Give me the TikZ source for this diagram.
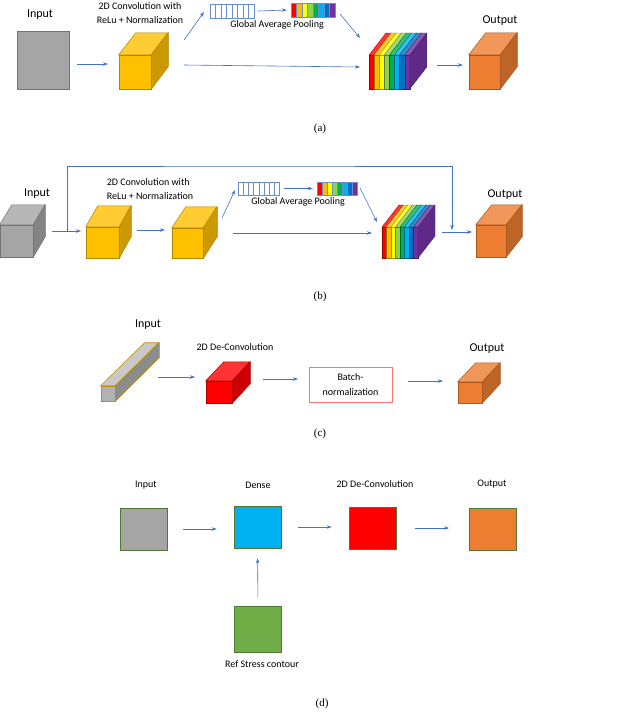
\documentclass[tikz,border=0pt]{standalone}
\usepackage{fontspec}
\setmainfont{Liberation Serif}
\newfontfamily\lab{Carlito}
\usetikzlibrary{arrows.meta}
\definecolor{cgray}{HTML}{A5A5A5}
\definecolor{cyel}{HTML}{FFC000}
\definecolor{corg}{HTML}{ED7D31}
\definecolor{cblue}{HTML}{4472C4}
\definecolor{ccyan}{HTML}{00B0F0}
\definecolor{cgreen}{HTML}{70AD47}
\definecolor{cdgreen}{HTML}{00B050}
\definecolor{clime}{HTML}{92D050}
\definecolor{cnavy}{HTML}{0070C0}
\definecolor{cpurp}{HTML}{7030A0}
\definecolor{cred}{HTML}{FF0000}
\definecolor{cyell}{HTML}{FFFF00}
\newcommand\cuboid[8]{%
  \node[draw=#8!70!black, fill=#8, minimum width=#4pt, minimum height=#5pt, inner sep=0pt, line width=.5pt] (#1) at (#2,#3) {};
  \filldraw[fill=#8!80!white, draw=#8!70!black, line width=.5pt] (#1.north west) -- ++(#6,-#7) -- ++(#4,0) -- (#1.north east) -- cycle;
  \filldraw[fill=#8!80!black, draw=#8!70!black, line width=.5pt] (#1.north east) -- ++(#6,-#7) -- ++(0,#5) -- (#1.south east) -- cycle;}
\newcommand\stack[7]{%
  \foreach \c [count=\i from 0] in {cred,cyel!90!orange,cyell,clime,cdgreen,ccyan,cnavy,cpurp}{
    \filldraw[fill=\c, draw=\c!60!black, line width=.3pt] (#2+\i*#4,#3) rectangle ++(#4,#5);
    \filldraw[fill=\c!80!white, draw=\c!60!black, line width=.3pt] (#2+\i*#4,#3) -- ++(#6,-#7) -- ++(#4,0) -- ++(-#6,#7) -- cycle;}
  \filldraw[fill=cpurp!85!black, draw=cpurp!60!black, line width=.3pt] (#2+8*#4,#3) -- ++(#6,-#7) -- ++(0,#5) -- ++(-#6,#7) -- cycle;
  \node[inner sep=0pt, minimum width={8*#4 pt}, minimum height=#5pt] (#1) at (#2+4*#4,#3+#5/2) {};}
\newcommand\pool[5]{%
  \foreach \i in {0,...,7}{\draw[cblue!80, line width=.4pt, fill=white] (#2+\i*#4,#3) rectangle ++(#4,#5);}
  \node[inner sep=0pt, minimum width={8*#4 pt}, minimum height=#5pt] (#1) at (#2+4*#4,#3+#5/2) {};}
\newcommand\cbar[5]{%
  \foreach \c [count=\i from 0] in {cred,cyel!90!orange,cyell,clime,cdgreen,ccyan,cnavy,cpurp}{\filldraw[fill=\c, draw=cblue!80, line width=.3pt] (#2+\i*#4,#3) rectangle ++(#4,#5);}
  \node[inner sep=0pt, minimum width={8*#4 pt}, minimum height=#5pt] (#1) at (#2+4*#4,#3+#5/2) {};}
\tikzset{arr/.style={-{Stealth[length=5pt,width=3.5pt]}, draw=cblue, line width=.6pt},
  lab/.style={font=\lab\fontsize{10}{12}\selectfont, inner sep=0pt, align=center},
  big/.style={font=\lab\fontsize{12}{14}\selectfont, inner sep=0pt},
  captxt/.style={font=\fontsize{11}{13}\selectfont, inner sep=0pt},
  sq/.style={draw=cgreen!70!black, line width=.7pt, minimum width=47pt, minimum height=42pt, inner sep=0pt}}
\begin{document}
\begin{tikzpicture}[x=1pt,y=-1pt]
\useasboundingbox (0,0) rectangle (640,713);
% ---------- (a)
\node[draw=cgray!70!black, fill=cgray, minimum width=52pt, minimum height=58pt, inner sep=0pt] (ain) at (43,60) {};
\node[big] (ainl) at (40,15) {Input};
\cuboid{ac}{135}{72}{32}{34}{17}{22}{cyel}
\node[lab] (acl) at (140,13) {2D Convolution with\\[2pt]ReLu + Normalization};
\pool{ap}{210}{4}{5.5}{14}
\cbar{ab}{291}{3}{5.5}{14}
\node[lab] (apl) at (277,25) {Global Average Pooling};
\stack{as}{369}{55}{5.1}{34}{17}{22}
\cuboid{ao}{484.5}{72}{31}{34}{17}{22}{corg}
\node[big] (aol) at (500,21) {Output};
\node[captxt] (acap) at (320,129) {(a)};
\coordinate (a1) at (77,64); \coordinate (a2) at (108,64);
\draw[arr] (a1) -- (a2);
\coordinate (a3) at (184,40); \coordinate (a4) at (204,12);
\draw[arr] (a3) -- (a4);
\draw[arr] (ap.east) ++(4,0) -- ([xshift=-4pt]ab.west);
\coordinate (a5) at (340,14); \coordinate (a6) at (360,38);
\draw[arr] (a5) -- (a6);
\coordinate (a7) at (184,65); \coordinate (a8) at (360,67);
\draw[arr] (a7) -- (a8);
\coordinate (a9) at (437,65); \coordinate (a10) at (463,65);
\draw[arr] (a9) -- (a10);
% ---------- (b)
\cuboid{bin}{16.5}{241}{33}{32}{12}{20}{cgray}
\node[big] (binl) at (37,194) {Input};
\cuboid{bc1}{102.5}{242.5}{33}{31}{12}{21}{cyel}
\node[lab, align=left] (bcl) at (150,189) {2D Convolution with\\[2pt]ReLu + Normalization};
\cuboid{bc2}{187.5}{243}{31}{30}{14}{21}{cyel}
\pool{bp}{238}{182}{5.2}{13}
\cbar{bb}{317}{182}{5}{13}
\node[lab] (bpl) at (298,202) {Global Average Pooling};
\stack{bs}{382}{227}{4.5}{31}{17}{22}
\cuboid{bo}{491}{241}{30}{32}{16}{20}{corg}
\node[big] (bol) at (505,195) {Output};
\node[captxt] (bcap) at (320,297) {(b)};
\coordinate (b1) at (52,231); \coordinate (b2) at (81,231);
\draw[arr] (b1) -- (b2);
\coordinate (bsk) at (67,231); \coordinate (bsk2) at (452,230);
\draw[arr] (bsk) |- (259.5,166) -| (bsk2);
\coordinate (b3) at (137,230); \coordinate (b4) at (165,230);
\draw[arr] (b3) -- (b4);
\coordinate (b5) at (222,218); \coordinate (b6) at (235,190);
\draw[arr] (b5) -- (b6);
\draw[arr] (bp.east) ++(4,0) -- ([xshift=-4pt]bb.west);
\coordinate (b7) at (360,188); \coordinate (b8) at (377,222);
\draw[arr] (b7) -- (b8);
\coordinate (b9) at (233,233); \coordinate (b10) at (372,233);
\draw[arr] (b9) -- (b10);
\coordinate (b11) at (442,232); \coordinate (b12) at (472,232);
\draw[arr] (b11) -- (b12);
% ---------- (c)
\node[draw=cyel!75!black, fill=cgray!85!white, minimum width=14pt, minimum height=15pt, inner sep=0pt, line width=.6pt] (cin) at (108,393.5) {};
\filldraw[fill=cgray!60!white, draw=cyel!75!black, line width=.6pt] (cin.north west) -- ++(44,-43) -- ++(14,0) -- (cin.north east) -- cycle;
\filldraw[fill=cgray!85!black, draw=cyel!75!black, line width=.6pt] (cin.north east) -- ++(44,-43) -- ++(0,15) -- (cin.south east) -- cycle;
\node[big] (cinl) at (148,325) {Input};
\cuboid{cr}{219}{392}{26}{22}{18}{19}{cred}
\node[lab] (crl) at (235,347) {2D De-Convolution};
\node[lab, draw=cred!55, line width=.6pt, minimum width=83pt, minimum height=35pt] (cb) at (350.5,384.5) {Batch-\\[3pt]normalization};
\cuboid{co}{470}{392.5}{24}{21}{18}{19}{corg}
\node[big] (col) at (487,349) {Output};
\node[captxt] (ccap) at (320,434) {(c)};
\coordinate (c1) at (158,377); \coordinate (c2) at (195,377);
\draw[arr] (c1) -- (c2);
\coordinate (c3) at (263,379); \coordinate (c3b) at (298,379);
\draw[arr] (c3) -- (c3b);
\coordinate (c4a) at (408,381); \coordinate (c4) at (443,381);
\draw[arr] (c4a) -- (c4);
% ---------- (d)
\node[sq, fill=cgray] (din) at (143.5,529) {};
\node[sq, fill=ccyan] (dd) at (257.5,527) {};
\node[sq, fill=cred] (dr) at (372.5,528) {};
\node[sq, fill=corg] (do) at (493,529) {};
\node[sq, fill=cgreen, minimum height=46pt] (dg) at (258,629) {};
\node[lab] (dinl) at (146,485) {Input};
\node[lab] (ddl) at (258,485) {Dense};
\node[lab] (drl) at (375,484) {2D De-Convolution};
\node[lab] (dol) at (492,484) {Output};
\node[lab] (dgl) at (262,664) {Ref Stress contour};
\node[captxt] (dcap) at (322,704) {(d)};
\draw[arr, shorten <=16pt, shorten >=17pt] (din.east) -- (din.east -| dd.west);
\draw[arr, shorten <=17pt, shorten >=17pt] (dd.east) -- (dd.east -| dr.west);
\draw[arr, shorten <=19pt, shorten >=20pt] (dr.east) -- (dr.east -| do.west);
\draw[arr, shorten <=8pt, shorten >=10pt] (dg.north) -- (dd.south);
\end{tikzpicture}
\end{document}
